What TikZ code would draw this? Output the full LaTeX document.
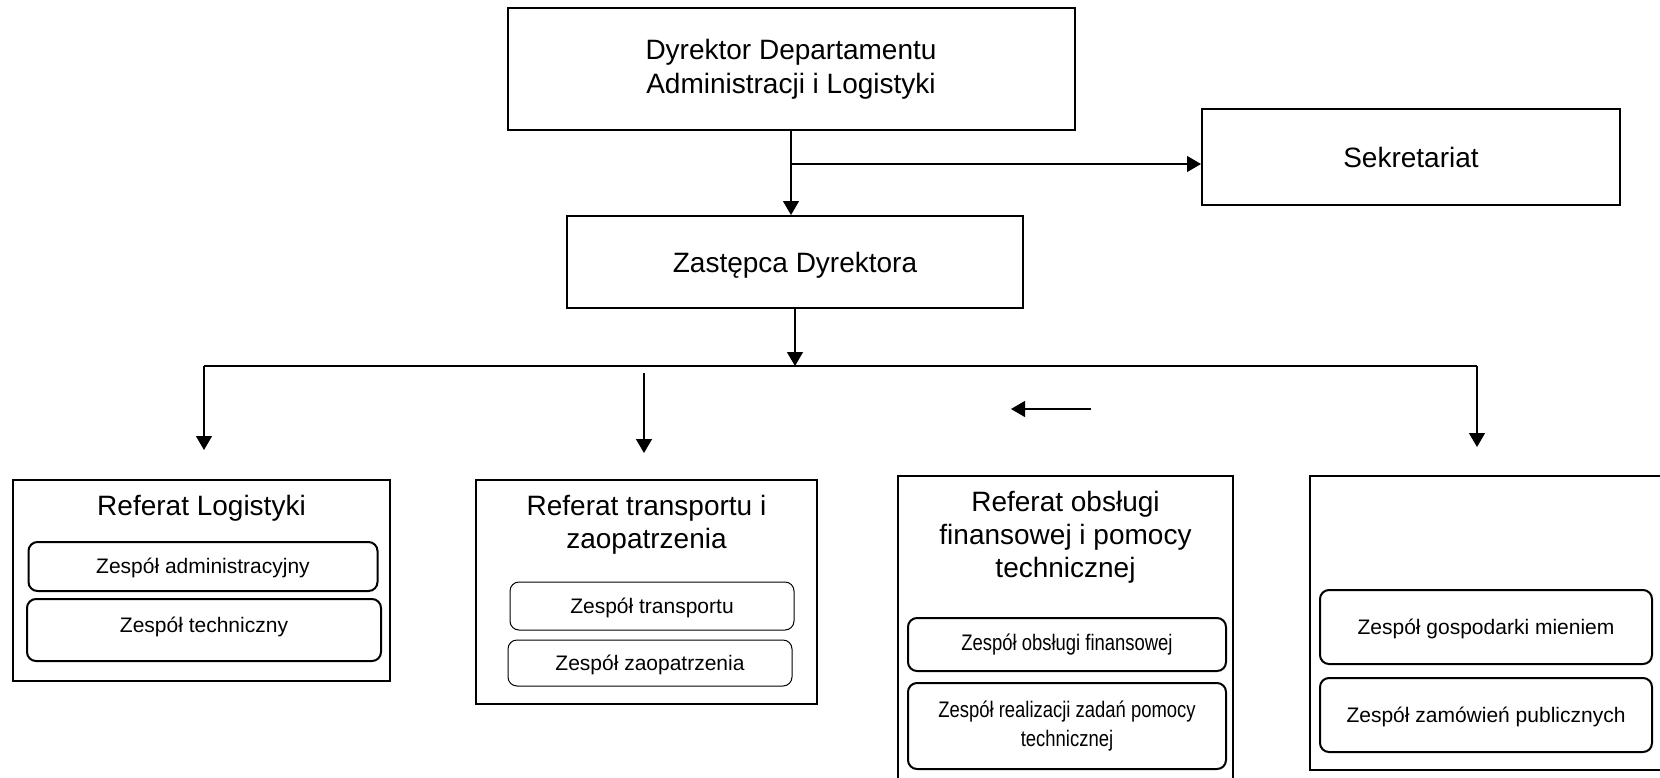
\documentclass[tikz,border=0pt]{standalone}
\usepackage{fontspec}
\setmainfont{Liberation Sans}
\newfontfamily\narrowfont[FakeStretch=0.82]{Liberation Sans}
\usetikzlibrary{arrows.meta,positioning}

\tikzset{
	orgpicture/.style = {
		x = 1pt,
		y = -1pt,
		font = \fontsize{28}{33}\selectfont,
		arrow/.style = {
			draw,
			line width = 1.2pt,
			-{Triangle[length=14pt, width=16pt]},
		}
	},
	headnode/.style = {
		draw = black,
		line width = 2pt,
		align = center,
		font = \fontsize{28}{34}\selectfont,
		execute at begin node = {\rule{0pt}{#1}}
	},
	headnode/.default = 27pt,
	refnode/.style = {
		draw = black,
		line width = 2pt
	},
	reftitle/.style = {
		align = center
	},
	team/.style = {
		draw = black,
		line width = 2pt,
		rounded corners = 9pt,
		align = center,
		font = \fontsize{21}{26}\selectfont,
		execute at begin node = {\rule{0pt}{19pt}}
	},
	team-thin/.style = {
		line width = 1pt
	},
	team-narrow/.style = {
		draw = black,
		line width = 2pt,
		rounded corners = 9pt,
		align = center,
		font = \narrowfont\fontsize{22.5}{28.6}\selectfont
	}
}

\begin{document}
\begin{tikzpicture}[orgpicture]
	\clip (0,0) rectangle (1660,777);

	\node[headnode, minimum width = 567, minimum height = 122] (dyr) at (791,69) {Dyrektor Departamentu\\ Administracji i Logistyki};
	\node[headnode = 22pt, minimum width = 418, minimum height = 96] (sek) at (1411,157) {Sekretariat};
	\node[headnode, minimum width = 456, minimum height = 92] (zast) at (795,262) {Zastępca Dyrektora};

	% referat logistyki
	\node[refnode, minimum width = 377, minimum height = 201] (refL) at (201.5,580.5) {};
	\node[reftitle] (refL-t) at (201.5,508) {Referat Logistyki};
	\node[team, minimum width = 349, minimum height = 49] (refL-adm) at (203,566.5) {Zespół administracyjny};
	\node[team, minimum width = 354, minimum height = 62, text depth = 15pt] (refL-tech) at (204,630) {Zespół techniczny};

	% referat transportu
	\node[refnode, minimum width = 341, minimum height = 224] (refT) at (646.5,592) {};
	\node[reftitle] (refT-t) at (646.5,524.5) {Referat transportu i\\ zaopatrzenia};
	\node[team, team-thin, minimum width = 284, minimum height = 48] (refT-tr) at (652,606) {Zespół transportu};
	\node[team, team-thin, minimum width = 284, minimum height = 46] (refT-zp) at (650,663) {Zespół zaopatrzenia};

	% referat obslugi
	\node[refnode, minimum width = 335, minimum height = 314] (refF) at (1065.5,633) {};
	\node[reftitle] (refF-t) at (1065.5,537.5) {Referat obsługi\\ finansowej i pomocy\\ technicznej};
	\node[team-narrow, minimum width = 318, minimum height = 53] (refF-fin) at (1067,644.5) {Zespół obsługi finansowej};
	\node[team-narrow, minimum width = 318, minimum height = 86] (refF-pt) at (1067,726) {Zespół realizacji zadań pomocy\\ technicznej};

	% czwarty referat
	\node[refnode, minimum width = 365, minimum height = 294] (refG) at (1492.5,623) {};
	\node[team, minimum width = 332, minimum height = 74] (refG-gm) at (1486,627) {Zespół gospodarki mieniem};
	\node[team, minimum width = 332, minimum height = 74] (refG-zp) at (1486,715) {Zespół zamówień publicznych};

	\coordinate (fork) at (791,164);
	\coordinate (busL) at (204,366);
	\coordinate (busR) at (1477,366);
	\coordinate (tipL) at (204,450);
	\coordinate (tipR) at (1477,447);
	\coordinate (tT-start) at (644,373);
	\coordinate (tT-end) at (644,453);
	\coordinate (back-start) at (1091,409);
	\coordinate (back-end) at (1011,409);

	\draw[line width = 1.2pt] (busL) -- (busR);

	\begin{scope}[every path/.style = arrow]
		\path (dyr.south) to (dyr.south |- zast.north);
		\path (fork) to (fork -| sek.west);
		\path (zast.south) to (zast.south |- busL);

		\path (busL) to (tipL);
		\path (tT-start) to (tT-end);
		\path (back-start) to (back-end);
		\path (busR) to (tipR);
	\end{scope}
\end{tikzpicture}
\end{document}
